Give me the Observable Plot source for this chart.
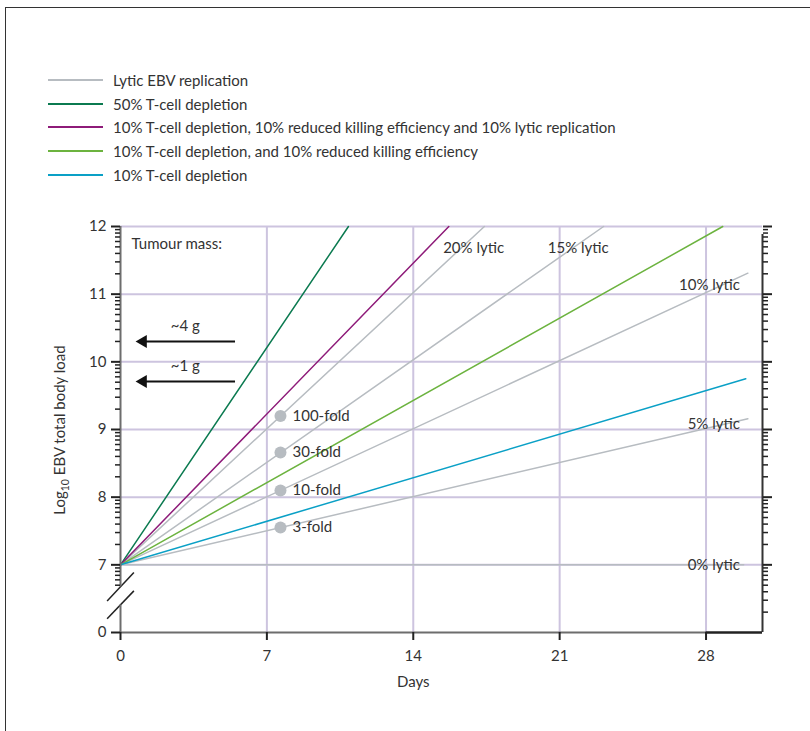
<!DOCTYPE html>
<html><head><meta charset="utf-8">
<script src="https://cdn.jsdelivr.net/npm/d3@7"></script>
<script src="https://cdn.jsdelivr.net/npm/@observablehq/plot@0.6"></script>
<style>
body{margin:0;background:#fff;font-family:Lato,"Liberation Sans",sans-serif;color:#333}
#wrap{position:relative;width:810px;height:731px;overflow:hidden;background:#fff}
#frame{position:absolute;left:5px;top:7px;width:805px;height:724px;border-top:1px solid #333;border-left:1px solid #333;box-sizing:border-box}
#legend{position:absolute;left:48px;top:68px;font-size:15px;color:#333}
.row{height:23.75px;display:flex;align-items:center;white-space:nowrap}
.sw{width:55px;height:0;border-top:2px solid;margin-right:10px}
#chart{position:absolute;left:0;top:200px}
</style></head><body>
<div id="wrap"><div id="frame"></div><div id="legend"></div><div id="chart"></div></div>
<script>
// ---- data ----
const startDay = 0;
const startLoad = 7;
const lyticLabels = ["0% lytic", "5% lytic", "10% lytic", "15% lytic", "20% lytic"];
const lyticEndDay = [29.8, 30, 30, 23.1, 17.4];
const lyticEndLoad = [7, 9.16, 11.31, 12, 12];

const scenarioNames = [
  "50% T-cell depletion",
  "10% T-cell depletion, 10% reduced killing efficiency and 10% lytic replication",
  "10% T-cell depletion, and 10% reduced killing efficiency",
  "10% T-cell depletion"
];
const scenarioEndDay = [10.9, 15.7, 28.8, 29.9];
const scenarioEndLoad = [12, 12, 12, 9.75];

const legendNames = ["Lytic EBV replication", ...scenarioNames];

const foldLabels = ["100-fold", "30-fold", "10-fold", "3-fold"];
const foldDay = [7.65, 7.65, 7.65, 7.65];
const foldLoad = [9.2, 8.66, 8.1, 7.55];

// annotation positions
const lyticLabelDay = [29.62, 29.62, 29.62, 20.43, 15.43];
const lyticLabelLoad = [7.0, 9.08, 11.13, 11.68, 11.68];
const lyticLabelAnchor = ["end", "end", "end", "start", "start"];

const massLabels = ["~4 g", "~1 g"];
const massArrowLoad = [10.3, 9.71];
const massLabelLoad = [10.53, 9.93];
const massArrowTip = 0.72;
const massArrowTail = 5.5;
const massLabelDay = 3.1;

const xTicks = [0, 7, 14, 21, 28];
const yTicks = [6, 7, 8, 9, 10, 11, 12];
const yTickLabels = ["0", "7", "8", "9", "10", "11", "12"];
const minorMultipliers = [2, 3, 4, 5, 6, 7, 8, 9];

// ---- styles ----
const gray = "#b7bcc1";
const scenarioColors = ["#0b7a50", "#8e1b79", "#6cb33f", "#0aa0c6"];
const legendColors = [gray, ...scenarioColors];
const lav = "#cdc4df";
const txt = "#333";
const xMax = 30.7;
const FS = 15;

// legend
const leg = document.getElementById("legend");
legendNames.forEach((n, i) => {
  const r = document.createElement("div"); r.className = "row";
  const s = document.createElement("span"); s.className = "sw"; s.style.borderTopColor = legendColors[i];
  const t = document.createElement("span"); t.textContent = n;
  r.appendChild(s); r.appendChild(t); leg.appendChild(r);
});

// build tables
const lyticData = lyticLabels.flatMap((s, i) => [
  {s, day: startDay, load: startLoad},
  {s, day: lyticEndDay[i], load: lyticEndLoad[i]}
]);
const scenData = scenarioNames.flatMap((s, i) => [
  {s, day: startDay, load: startLoad},
  {s, day: scenarioEndDay[i], load: scenarioEndLoad[i]}
]);
const folds = foldLabels.map((t, i) => ({t, day: foldDay[i], load: foldLoad[i]}));
const lytLab = lyticLabels.map((t, i) => ({t, day: lyticLabelDay[i], load: lyticLabelLoad[i], a: lyticLabelAnchor[i]}));
const mass = massLabels.map((t, i) => ({t, y: massArrowLoad[i], ly: massLabelLoad[i]}));

const minorLeft = [];
const minorRight = [];
for (let d = 6; d < 12; d++) for (const k of minorMultipliers) {
  const v = d + Math.log10(k);
  minorRight.push(v);
  if (d > 6 || k >= 5) minorLeft.push(v);
}
// axis break
const breakMarks = [
  {x1: -0.64, y1: 6.467, x2: 0.64, y2: 6.886},
  {x1: -0.64, y1: 6.204, x2: 0.64, y2: 6.615}
];
const leftAxisSegments = [{y1: 6, y2: 6.407}, {y1: 6.674, y2: 12}];

const fmtY = d => yTickLabels[yTicks.indexOf(d)];

const chart = Plot.plot({
  width: 810, height: 531,
  marginLeft: 120, marginRight: 48, marginTop: 26, marginBottom: 99,
  style: {fontFamily: "Lato, 'Liberation Sans', sans-serif", fontSize: FS + "px", color: txt, background: "transparent"},
  x: {domain: [0, xMax]},
  y: {domain: [6, 12]},
  color: {domain: scenarioNames, range: scenarioColors},
  marks: [
    Plot.gridY([7, 8, 9, 10, 11, 12], {stroke: lav, strokeOpacity: 1, strokeWidth: 2}),
    Plot.gridX([7, 14, 21, 28], {stroke: lav, strokeOpacity: 1, strokeWidth: 2}),
    Plot.line(lyticData, {x: "day", y: "load", z: "s", stroke: gray, strokeWidth: 1.5}),
    Plot.line(scenData, {x: "day", y: "load", z: "s", stroke: "s", strokeWidth: 1.5}),
    Plot.dot(folds, {x: "day", y: "load", r: 6, fill: gray}),
    Plot.text(folds, {x: "day", y: "load", text: "t", dx: 12, textAnchor: "start", fill: txt, fontSize: FS}),
    Plot.text(lytLab, {filter: d => d.a === "end", x: "day", y: "load", text: "t", textAnchor: "end", fill: txt, fontSize: FS}),
    Plot.text(lytLab, {filter: d => d.a === "start", x: "day", y: "load", text: "t", textAnchor: "start", fill: txt, fontSize: FS}),
    Plot.text(["Tumour mass:"], {x: 0.53, y: 11.74, text: d => d, textAnchor: "start", fill: txt, fontSize: FS}),
    Plot.text(mass, {x: massLabelDay, y: "ly", text: "t", fill: txt, fontSize: FS}),
    Plot.ruleY(mass, {y: "y", x1: massArrowTip + 0.3, x2: massArrowTail, stroke: "#111", strokeWidth: 2}),
    Plot.dot(mass, {x: massArrowTip, y: "y", dx: 7.5, symbol: "triangle", r: 4.8, fill: "#111", rotate: -90}),
    Plot.link(breakMarks, {x1: "x1", y1: "y1", x2: "x2", y2: "y2", stroke: "#222", strokeWidth: 1.5}),
    Plot.ruleX(leftAxisSegments, {x: 0, y1: "y1", y2: "y2", stroke: "#6d6d6d", strokeWidth: 2}),
    Plot.ruleX([xMax], {y1: 6, y2: 12, stroke: "#333", strokeWidth: 2, insetBottom: -8}),
    Plot.ruleY([6], {x1: 0, x2: 28, stroke: "#6d6d6d", strokeWidth: 2}),
    Plot.ruleY([6], {x1: 28, x2: xMax, stroke: "#222", strokeWidth: 2.5}),
    Plot.axisX(xTicks, {tickSize: 8, tickPadding: 10, stroke: "#222", strokeWidth: 2, fill: txt, fontSize: FS, label: null}),
    Plot.axisY(yTicks, {anchor: "left", tickSize: 9, tickPadding: 5, tickFormat: fmtY, stroke: "#222", strokeWidth: 2, fill: txt, fontSize: FS, label: null}),
    Plot.axisY(minorLeft, {anchor: "left", tickSize: 5, tickFormat: () => "", stroke: "#222", strokeWidth: 1.5, label: null}),
    Plot.axisY(yTicks.slice(1), {anchor: "right", tickSize: 9, tickFormat: () => "", stroke: "#222", strokeWidth: 2, label: null}),
    Plot.axisY(minorRight, {anchor: "right", tickSize: 5, tickFormat: () => "", stroke: "#222", strokeWidth: 1.5, label: null}),
    Plot.text(["Days"], {x: 14, y: 6, text: d => d, dy: 50, fill: txt, fontSize: FS})
  ]
});
document.getElementById("chart").appendChild(chart);

// y-axis title with subscript
const yl = d3.select(chart).append("text")
  .attr("transform", "translate(65,230) rotate(-90)")
  .attr("text-anchor", "middle")
  .attr("fill", txt)
  .attr("font-size", FS);
yl.append("tspan").text("Log");
yl.append("tspan").attr("font-size", 10.5).attr("dy", 4).text("10");
yl.append("tspan").attr("dy", -4).text(" EBV total body load");
</script>
</body></html>
